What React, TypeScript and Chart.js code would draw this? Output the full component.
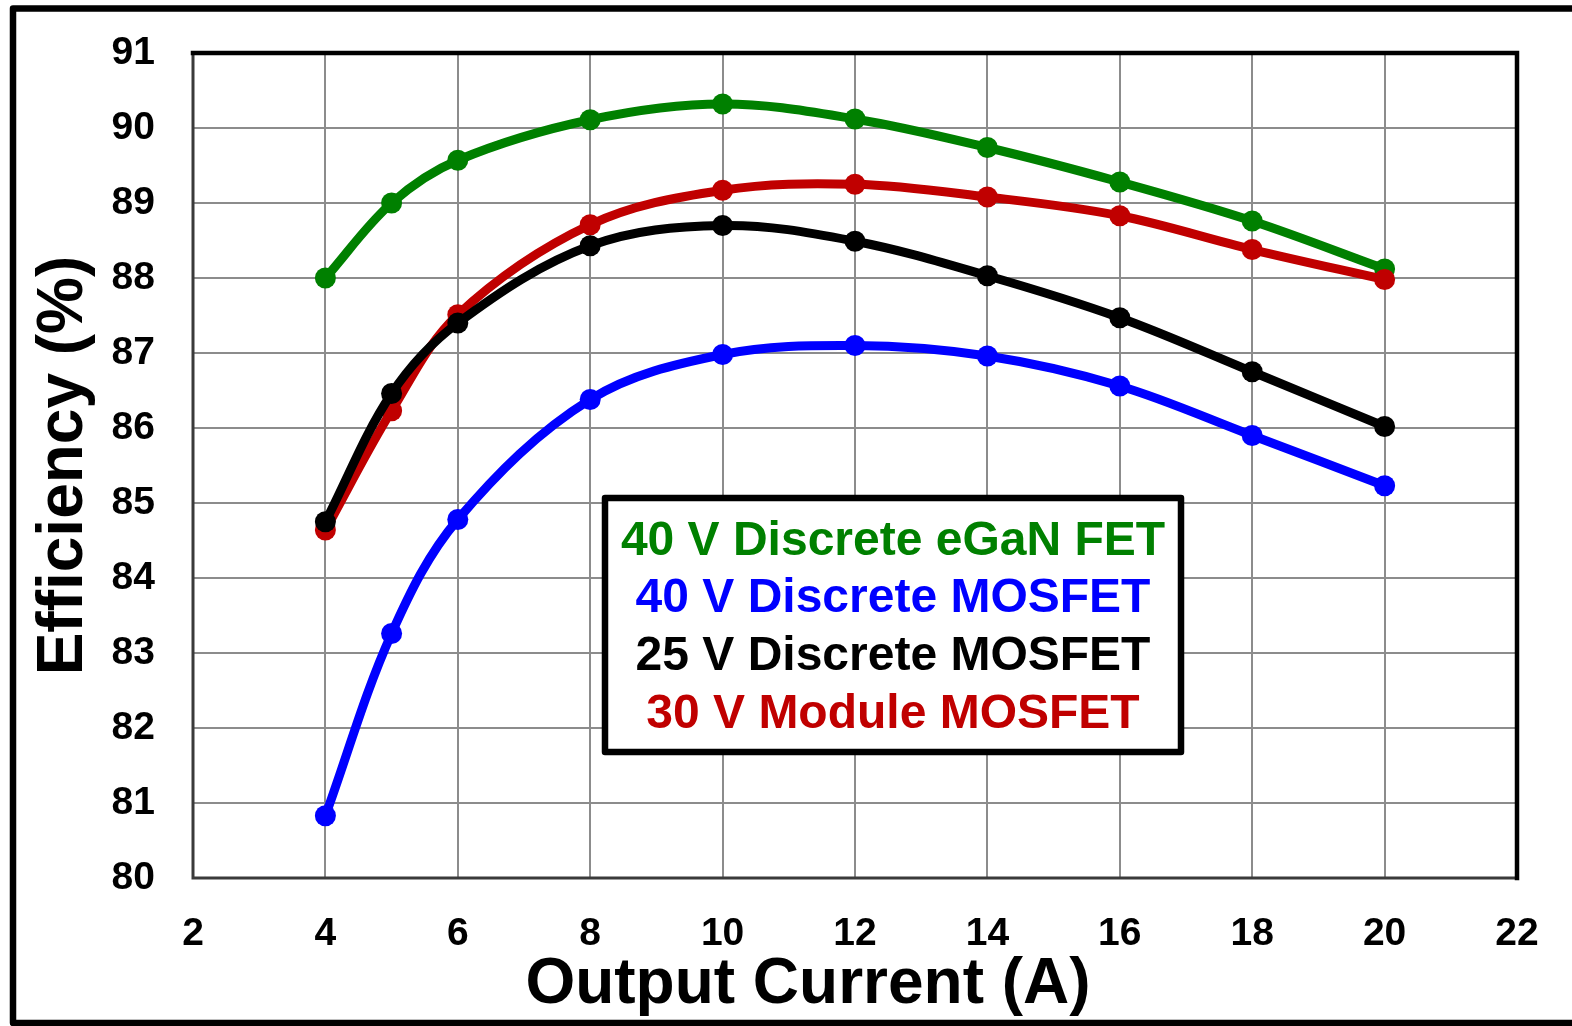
import { useEffect, useRef } from "react";
import { Chart, registerables } from "chart.js";

Chart.register(...registerables);

// ---- data ----
const currents = [4, 5, 6, 8, 10, 12, 14, 16, 18, 20];
const eganFet40 = [88.0, 89.0, 89.57, 90.11, 90.32, 90.12, 89.74, 89.28, 88.76, 88.12];
const mosfet40 = [80.83, 83.26, 84.78, 86.38, 86.98, 87.1, 86.96, 86.56, 85.9, 85.23];
const mosfet25 = [84.75, 86.46, 87.4, 88.43, 88.7, 88.49, 88.03, 87.47, 86.75, 86.02];
const module30 = [84.64, 86.23, 87.51, 88.71, 89.17, 89.25, 89.08, 88.83, 88.38, 87.98];

const seriesLabels = [
  "40 V Discrete eGaN FET",
  "40 V Discrete MOSFET",
  "25 V Discrete MOSFET",
  "30 V Module MOSFET",
];
const seriesColors = ["#008000", "#0000FF", "#000000", "#C00000"];

const xMin = 2;
const xMax = 22;
const xStep = 2;
const yMin = 80;
const yMax = 91;
const yStep = 1;

const xTitle = "Output Current (A)";
const yTitle = "Efficiency (%)";

const FONT = "'Liberation Sans', Arial, Helvetica, sans-serif";

const W = 1572;
const H = 1026;

const decorPlugin = {
  id: "decor",
  beforeDatasetsDraw(chart: any) {
    const { ctx, chartArea } = chart;
    const { left, right, top, bottom } = chartArea;
    ctx.save();
    ctx.lineCap = "square";
    // left & bottom (thinner, dark)
    ctx.strokeStyle = "#3a3a3a";
    ctx.lineWidth = 3;
    ctx.beginPath();
    ctx.moveTo(left, top);
    ctx.lineTo(left, bottom);
    ctx.lineTo(right, bottom);
    ctx.stroke();
    // top & right (thick black)
    ctx.strokeStyle = "#000";
    ctx.lineWidth = 4.5;
    ctx.beginPath();
    ctx.moveTo(left, top);
    ctx.lineTo(right, top);
    ctx.lineTo(right, bottom);
    ctx.stroke();
    ctx.restore();
  },
  afterDraw(chart: any) {
    const { ctx, chartArea } = chart;
    ctx.save();
    // outer frame
    ctx.strokeStyle = "#000";
    ctx.lineWidth = 6.5;
    ctx.lineJoin = "round";
    ctx.beginPath();
    ctx.moveTo(W + 10, 8.5);
    ctx.lineTo(13, 8.5);
    ctx.lineTo(13, 1023);
    ctx.lineTo(W + 10, 1023);
    ctx.stroke();

    // axis titles
    ctx.fillStyle = "#000";
    ctx.font = `bold 64px ${FONT}`;
    ctx.textAlign = "center";
    ctx.textBaseline = "alphabetic";
    ctx.fillText(xTitle, 808, 1003);

    ctx.save();
    ctx.translate(82, (chartArea.top + chartArea.bottom) / 2);
    ctx.rotate(-Math.PI / 2);
    ctx.fillText(yTitle, 0, 0);
    ctx.restore();

    // legend box
    const bx1 = 605, bx2 = 1181, by1 = 498, by2 = 752;
    ctx.fillStyle = "#fff";
    ctx.fillRect(bx1, by1, bx2 - bx1, by2 - by1);
    ctx.strokeStyle = "#000";
    ctx.lineWidth = 6.5;
    ctx.lineJoin = "round";
    ctx.strokeRect(bx1, by1, bx2 - bx1, by2 - by1);
    ctx.font = `bold 48px ${FONT}`;
    ctx.textAlign = "center";
    const baselines = [555, 612, 670, 728];
    const cx = (bx1 + bx2) / 2;
    chart.data.datasets.forEach((ds: any, i: number) => {
      ctx.fillStyle = ds.borderColor;
      ctx.fillText(ds.label, cx, baselines[i]);
    });
    ctx.restore();
  },
};

function makeData(values: number[]) {
  return currents.map((x, i) => ({ x, y: values[i] }));
}

export default function App() {
  const canvasRef = useRef<HTMLCanvasElement | null>(null);

  useEffect(() => {
    const canvas = canvasRef.current;
    if (!canvas) return;
    const allSeries = [eganFet40, mosfet40, mosfet25, module30];
    const drawOrder = [3, 2, 0, 1];
    const chart = new Chart(canvas, {
      type: "line",
      data: {
        datasets: allSeries.map((vals, i) => ({
          label: seriesLabels[i],
          data: makeData(vals),
          borderColor: seriesColors[i],
          backgroundColor: seriesColors[i],
          pointBackgroundColor: seriesColors[i],
          pointBorderColor: seriesColors[i],
          pointBorderWidth: 0,
          pointRadius: 10.5,
          borderWidth: 9,
          tension: 0.35,
          fill: false,
          order: drawOrder[i],
        })),
      },
      options: {
        animation: false,
        responsive: false,
        maintainAspectRatio: false,
        devicePixelRatio: 1,
        events: [],
        layout: { padding: { left: 0, right: 55, top: 53, bottom: 0 } },
        plugins: {
          legend: { display: false },
          tooltip: { enabled: false },
          title: { display: false },
        },
        scales: {
          x: {
            type: "linear",
            min: xMin,
            max: xMax,
            afterFit(scale: any) {
              scale.height = 148;
              scale.paddingLeft = 0;
              scale.paddingRight = 0;
            },
            ticks: {
              stepSize: xStep,
              padding: 33,
              color: "#000",
              font: { family: FONT, size: 39, weight: "bold" },
              maxRotation: 0,
              autoSkip: false,
            },
            grid: { color: "#8c8c8c", lineWidth: 2, drawTicks: false },
            border: { display: false },
          },
          y: {
            type: "linear",
            min: yMin,
            max: yMax,
            afterFit(scale: any) {
              scale.width = 193;
              scale.paddingTop = 0;
              scale.paddingBottom = 0;
            },
            ticks: {
              stepSize: yStep,
              padding: 38,
              color: "#000",
              font: { family: FONT, size: 39, weight: "bold" },
              autoSkip: false,
            },
            grid: { color: "#8c8c8c", lineWidth: 2, drawTicks: false },
            border: { display: false },
          },
        },
      },
      plugins: [decorPlugin],
    });
    return () => chart.destroy();
  }, []);

  return (
    <div style={{ position: "fixed", left: 0, top: 0, width: W, height: H, background: "#fff" }}>
      <canvas ref={canvasRef} width={W} height={H} style={{ display: "block", width: W, height: H }} />
    </div>
  );
}
